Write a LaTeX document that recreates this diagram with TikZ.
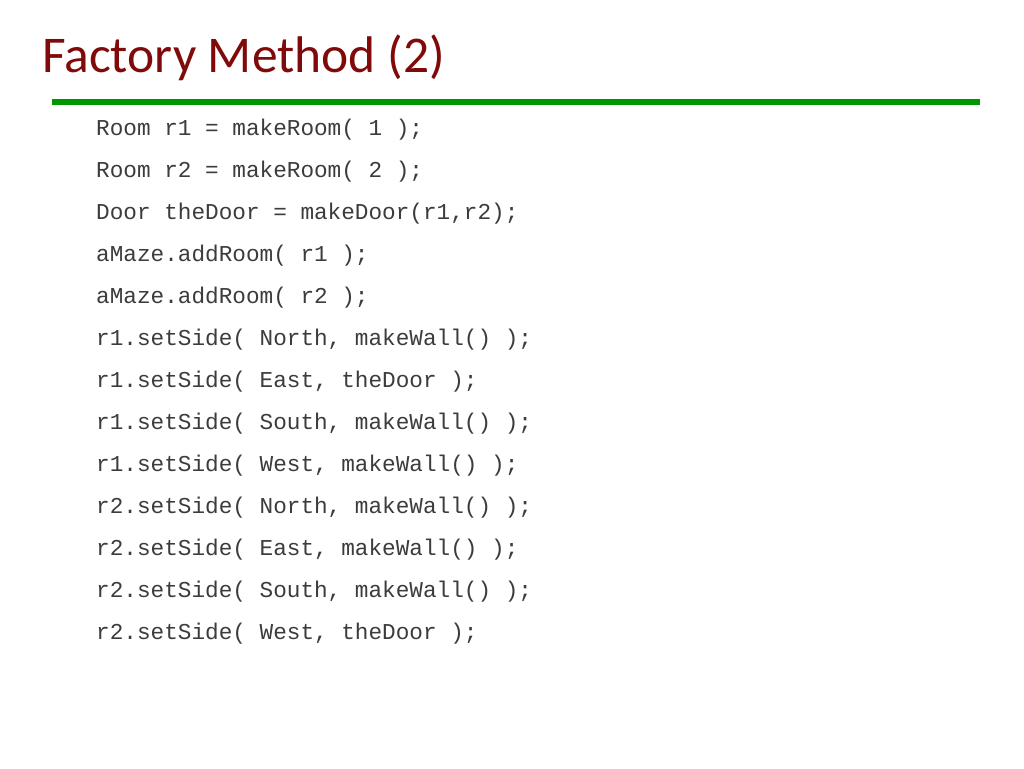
\documentclass[tikz,border=0pt]{standalone}
\usepackage{fontspec}
\setmainfont{Carlito}
\newfontfamily\codefont{Liberation Mono}
\definecolor{titlered}{RGB}{128,10,10}
\definecolor{rulegreen}{RGB}{0,150,0}
\definecolor{codegray}{RGB}{60,60,60}
\tikzset{
  titletext/.style={anchor=base west, inner sep=0pt, text=titlered, font=\fontsize{51.5}{56}\selectfont},
  codeline/.style={anchor=base west, inner sep=0pt, text=codegray, font=\codefont\fontsize{22.7}{26}\selectfont},
  greenrule/.style={draw=rulegreen, line width=6pt}
}
\begin{document}
\begin{tikzpicture}[x=1pt,y=-1pt]
\useasboundingbox[fill=white] (0,0) rectangle (1024,768);
\node[titletext] (title) at (42,72) {Factory Method (2)};
\coordinate (ruleL) at (52,102);
\coordinate (ruleR) at (980,102);
\draw[greenrule] (ruleL) -- (ruleR);
\node[codeline] (l1) at (96,135) {Room r1 = makeRoom( 1 );};
\node[codeline] (l2) at (96,177) {Room r2 = makeRoom( 2 );};
\node[codeline] (l3) at (96,219) {Door theDoor = makeDoor(r1,r2);};
\node[codeline] (l4) at (96,261) {aMaze.addRoom( r1 );};
\node[codeline] (l5) at (96,303) {aMaze.addRoom( r2 );};
\node[codeline] (l6) at (96,345) {r1.setSide( North, makeWall() );};
\node[codeline] (l7) at (96,387) {r1.setSide( East, theDoor );};
\node[codeline] (l8) at (96,429) {r1.setSide( South, makeWall() );};
\node[codeline] (l9) at (96,471) {r1.setSide( West, makeWall() );};
\node[codeline] (l10) at (96,513) {r2.setSide( North, makeWall() );};
\node[codeline] (l11) at (96,555) {r2.setSide( East, makeWall() );};
\node[codeline] (l12) at (96,597) {r2.setSide( South, makeWall() );};
\node[codeline] (l13) at (96,639) {r2.setSide( West, theDoor );};
\end{tikzpicture}
\end{document}
